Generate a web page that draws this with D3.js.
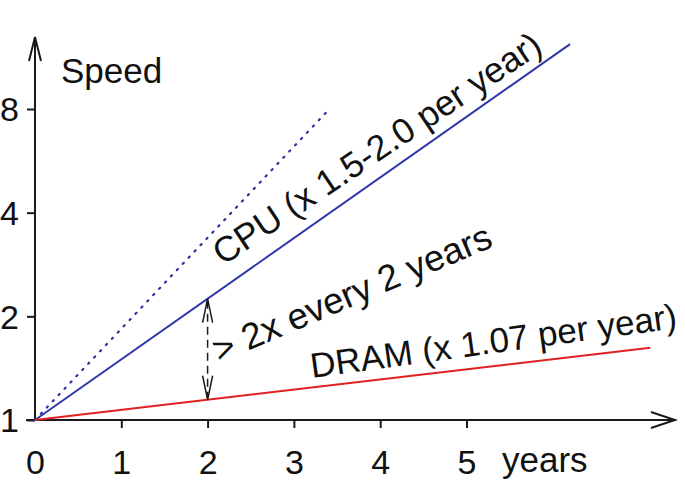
<!DOCTYPE html>
<html><head><meta charset="utf-8">
<script src="https://cdn.jsdelivr.net/npm/d3@7/dist/d3.min.js"></script>
<style>body{margin:0;background:#fff}svg{display:block}text{font-family:"Liberation Sans",Arial,Helvetica,sans-serif;fill:#111}</style>
</head><body>
<script>
const yearTicks = [0, 1, 2, 3, 4, 5];
const speedTicks = [1, 2, 4, 8];
const cpuSeries = [{year: 0, speed: 1}, {year: 6.2, speed: 12.35}];
const cpuFastSeries = [{year: 0, speed: 1}, {year: 3.37, speed: 7.8}];
const dramSeries = [{year: 0, speed: 1}, {year: 7.13, speed: 1.62}];
const gapYear = 2, gapTop = 2.25, gapBottom = 1.145;
const labels = {cpu: "CPU (x 1.5-2.0 per year)", dram: "DRAM (x 1.07 per year)", gap: "> 2x every 2 years", xName: "years", yName: "Speed"};

const W = 685, H = 480, FS = 34;
const svg = d3.select("body").append("svg").attr("width", W).attr("height", H);
const x = d3.scaleLinear().domain([0, 5]).range([35, 466.5]);
const y = d3.scaleLog().base(2).domain([1, 8]).range([420, 109]);
const ink = "#1a1a1a";

// axes lines with open arrowheads
const ax = svg.append("g").attr("stroke", ink).attr("stroke-width", 2).attr("fill", "none");
ax.append("line").attr("x1", 26).attr("x2", 675).attr("y1", y(1)).attr("y2", y(1));
ax.append("polyline").attr("points", `651,${y(1)-8} 675,${y(1)} 651,${y(1)+8}`);
ax.append("line").attr("x1", x(0)).attr("x2", x(0)).attr("y1", y(1)).attr("y2", 37);
ax.append("polyline").attr("points", `${x(0)-6},61 ${x(0)},37 ${x(0)+6},61`);

// x axis ticks
const gx = svg.append("g").attr("transform", `translate(0,${y(1)})`)
  .call(d3.axisBottom(x).tickValues(yearTicks).tickSize(8).tickSizeOuter(0).tickFormat(d3.format("d")).tickPadding(22));
gx.select(".domain").remove();
gx.selectAll(".tick line").attr("stroke", ink).attr("stroke-width", 2);
gx.selectAll(".tick").filter(d => d === 0).select("line").remove();
gx.selectAll(".tick text").attr("font-size", FS).attr("fill", ink).attr("font-family", null);

// y axis ticks
const gy = svg.append("g").attr("transform", `translate(${x(0)},0)`)
  .call(d3.axisLeft(y).tickValues(speedTicks).tickSize(8).tickSizeOuter(0).tickFormat(d3.format("d")).tickPadding(8));
gy.select(".domain").remove();
gy.selectAll(".tick line").attr("stroke", ink).attr("stroke-width", 2);
gy.selectAll(".tick text").attr("font-size", FS).attr("fill", ink).attr("font-family", null).attr("dy", "0.35em");

svg.append("text").attr("x", 502).attr("y", 472).attr("font-size", 35).text(labels.xName);
svg.append("text").attr("x", 61).attr("y", 83).attr("font-size", 35).text(labels.yName);

const line = d3.line().x(d => x(d.year)).y(d => y(d.speed));
svg.append("path").datum(cpuFastSeries).attr("d", line).attr("fill", "none")
  .attr("stroke", "#3030a0").attr("stroke-width", 2.2).attr("stroke-dasharray", "1.4 7.2").attr("stroke-linecap", "round");
svg.append("path").datum(cpuSeries).attr("d", line).attr("fill", "none").attr("stroke", "#3038a8").attr("stroke-width", 2);
svg.append("path").datum(dramSeries).attr("d", line).attr("fill", "none").attr("stroke", "#e02020").attr("stroke-width", 2);

// double-headed dashed arrow
const gxp = x(gapYear), t = y(gapTop), b = y(gapBottom);
const ar = svg.append("g").attr("stroke", ink).attr("stroke-width", 1.5).attr("fill", "none");
ar.append("line").attr("x1", gxp).attr("x2", gxp).attr("y1", t + 2).attr("y2", b - 2).attr("stroke-dasharray", "8 5");
ar.append("polyline").attr("points", `${gxp-5},${t+24} ${gxp},${t} ${gxp+5},${t+24}`);
ar.append("polyline").attr("points", `${gxp-5},${b-24} ${gxp},${b} ${gxp+5},${b-24}`);

svg.append("text").attr("font-size", 35.5).attr("transform", "translate(223,266) rotate(-33.8)").text(labels.cpu);
svg.append("text").attr("font-size", 36.5).attr("transform", "translate(219,363) rotate(-23)").text(labels.gap);
svg.append("text").attr("font-size", 35).attr("transform", "translate(312,378) rotate(-7.8)").text(labels.dram);
</script>
</body></html>
